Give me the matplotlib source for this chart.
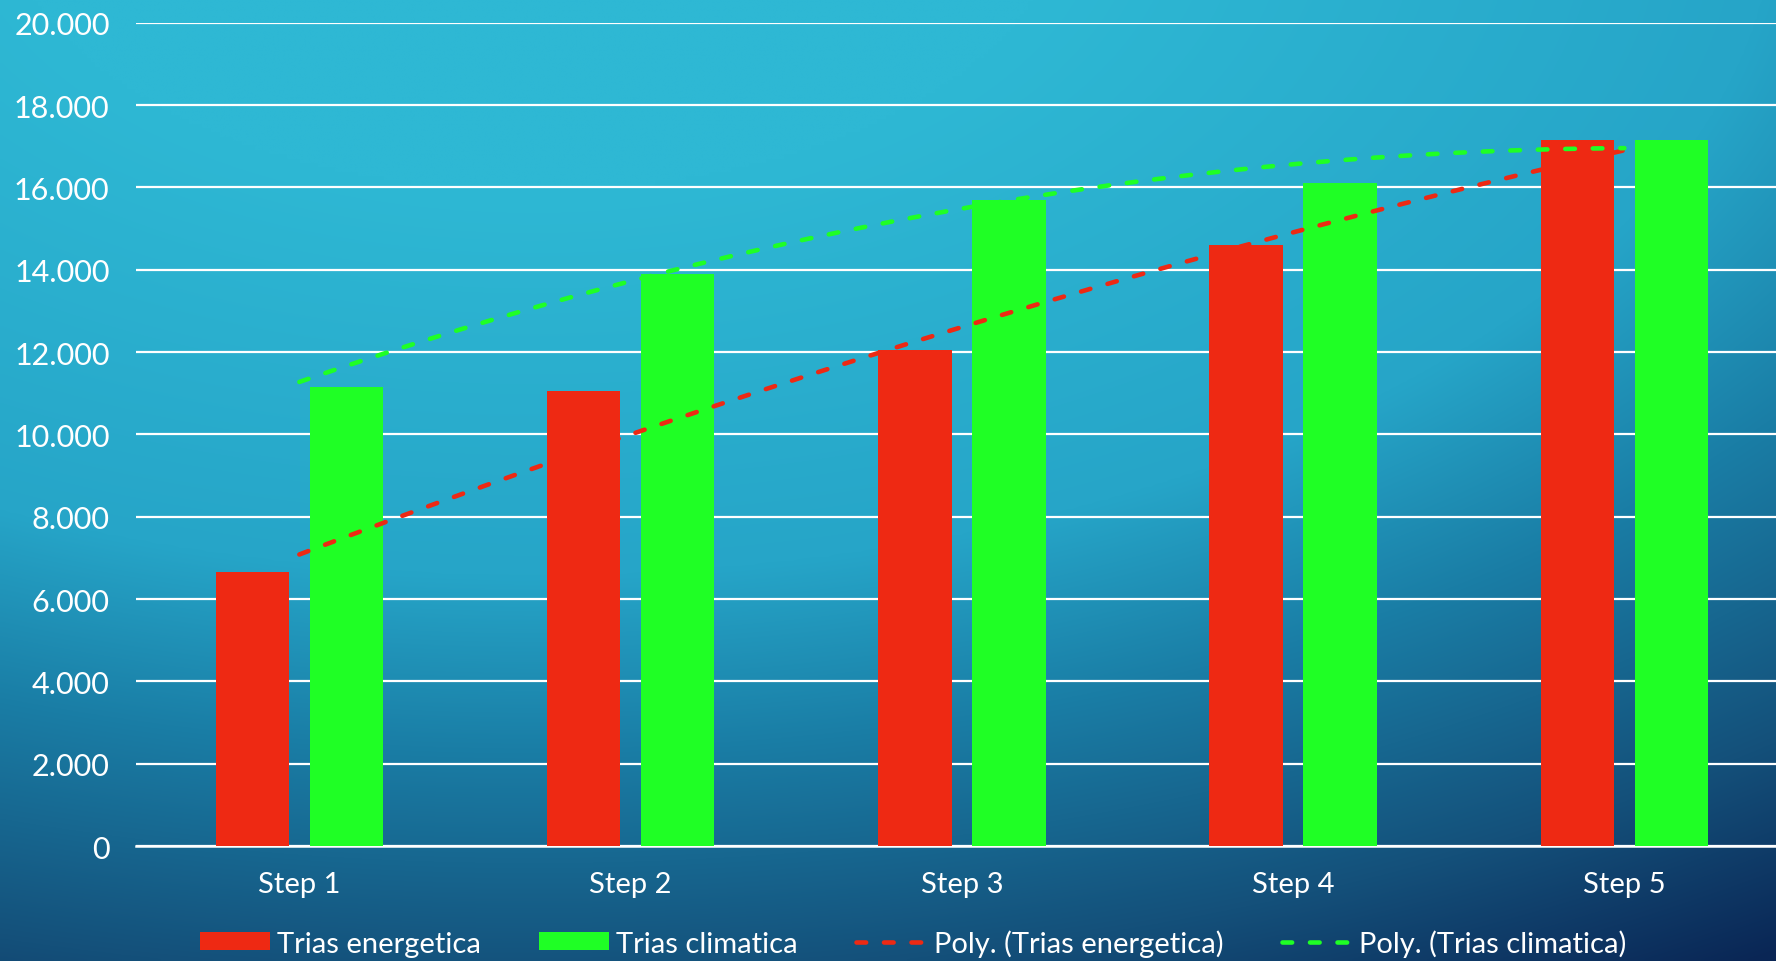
import numpy as np
import matplotlib
matplotlib.use("Agg")
import matplotlib.pyplot as plt
from matplotlib.ticker import FuncFormatter

# Data
categories = ["Step 1", "Step 2", "Step 3", "Step 4", "Step 5"]
trias_energetica = [6650, 11050, 12050, 14600, 17150]
trias_climatica = [11150, 13900, 15700, 16100, 17150]
yticks = [0, 2000, 4000, 6000, 8000, 10000, 12000, 14000, 16000, 18000, 20000]

RED = "#EE2913"
GREEN = "#1FFF25"
FONT = "Lato"

W, H = 1776, 962
fig = plt.figure(figsize=(W / 100, H / 100), dpi=100)

# Background gradient: bright cyan upper-left fading to navy lower-right
bg = fig.add_axes([0, 0, 1, 1], zorder=-10)
bg.set_axis_off()
xx, yy = np.meshgrid(np.linspace(0, 1, 400), np.linspace(0, 1, 220))
d = np.sqrt((xx - 0.3) ** 2 + (yy + 0.1) ** 2)
stops = [0.30, 0.70, 0.88, 1.12, 1.30]
cols = np.array([[46, 184, 212], [38, 165, 200], [26, 126, 166],
                 [20, 80, 122], [10, 38, 85]]) / 255.0
img = np.zeros(d.shape + (3,))
for c in range(3):
    img[..., c] = np.interp(d, stops, cols[:, c])
bg.imshow(img, extent=[0, 1, 0, 1], origin="upper", aspect="auto",
          interpolation="bilinear")
bg.set_xlim(0, 1)
bg.set_ylim(0, 1)

ax = fig.add_axes([0.0766, 0.1195, 0.9326, 0.8558])
ax.set_facecolor("none")
x = np.arange(len(categories))
bw = 0.222
off = 0.142
ax.bar(x - off, trias_energetica, width=bw, color=RED, zorder=3,
       label="Trias energetica")
ax.bar(x + off, trias_climatica, width=bw, color=GREEN, zorder=3,
       label="Trias climatica")

# Second-order polynomial trendlines across the categories
xs = np.linspace(0, len(categories) - 1, 200)
for vals, col, name in [(trias_energetica, RED, "Poly. (Trias energetica)"),
                        (trias_climatica, GREEN, "Poly. (Trias climatica)")]:
    coef = np.polyfit(x, vals, 2)
    ax.plot(xs, np.polyval(coef, xs), color=col, lw=3.3,
            dashes=(2.1, 3.9), dash_capstyle="round", zorder=4, label=name)

ax.set_xlim(-0.493, len(categories) - 0.493)
ax.set_ylim(0, 20000)
ax.set_yticks(yticks)
ax.yaxis.set_major_formatter(FuncFormatter(lambda v, p: f"{int(v):,}".replace(",", ".")))
ax.set_xticks(x)
ax.set_xticklabels(categories)
ax.grid(axis="y", color="white", lw=1.6, zorder=1)
ax.set_axisbelow(True)
for s in ["top", "right", "left"]:
    ax.spines[s].set_visible(False)
ax.spines["bottom"].set_color("white")
ax.spines["bottom"].set_linewidth(1.8)
ax.spines["bottom"].set_zorder(2)
ax.tick_params(axis="both", length=0, colors="white")
ax.tick_params(axis="y", pad=19, labelsize=22)
ax.tick_params(axis="x", pad=18, labelsize=21)
for lab in ax.get_xticklabels() + ax.get_yticklabels():
    lab.set_fontfamily(FONT)

handles, labels = ax.get_legend_handles_labels()
order = [2, 3, 0, 1]
handles = [handles[i] for i in order]
labels = [labels[i] for i in order]
leg = fig.legend(handles, labels, loc="center", bbox_to_anchor=(0.514, 0.019),
                 ncol=4, frameon=False, handlelength=2.4, handleheight=0.58,
                 handletextpad=0.25, columnspacing=2.0,
                 prop={"family": FONT, "size": 21})
for t in leg.get_texts():
    t.set_color("white")

fig.savefig("out.png", dpi=100)
